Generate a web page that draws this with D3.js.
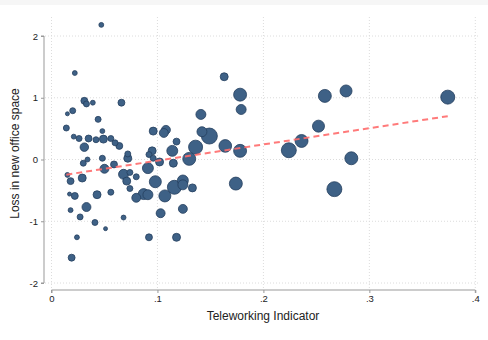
<!DOCTYPE html>
<html>
<head>
<meta charset="utf-8">
<script src="https://cdn.jsdelivr.net/npm/d3@7"></script>
<style>
  body { margin: 0; background: #fff; }
  text { font-family: "Liberation Sans", Arial, sans-serif; fill: #222; }
</style>
</head>
<body>
<svg id="chart" width="488" height="340"></svg>
<script>
// teleworking indicator (x), loss in new office space (y), weight (marker size)
var telework = [.047,.022,.031,.033,.039,.066,.020,.015,.044,.014,.048,.021,.026,.035,.042,.049,.056,.060,.064,.031,
  .072,.072,.048,.034,.030,.059,.050,.096,.108,.106,.118,.114,.095,.092,.096,.102,.091,.115,.130,.136,
  .141,.142,.149,.164,.163,.178,.179,.178,.258,.278,.374,.252,.236,.224,.283,.267,.174,.015,.018,.029,
  .017,.022,.043,.056,.033,.018,.027,.041,.051,.068,.024,.019,.092,.118,.068,.071,.074,.080,.074,.098,
  .080,.087,.091,.107,.103,.116,.124,.124,.133,.124];
var loss = [2.18,1.40,.95,.90,.92,.92,.79,.74,.65,.51,.46,.37,.34,.34,.32,.33,.34,.27,.22,.20,
  .09,.02,.02,.00,-.06,-.08,-.15,.46,.48,.43,.29,.14,.14,.08,.02,-.04,-.14,-.06,.01,.20,
  .73,.45,.38,.22,1.34,1.05,.81,.14,1.03,1.11,1.01,.54,.30,.15,.02,-.48,-.39,-.25,-.35,-.30,
  -.56,-.59,-.57,-.53,-.77,-.82,-.93,-1.02,-1.12,-.94,-1.26,-1.59,-1.26,-1.26,-.24,-.35,-.21,-.28,-.47,-.36,
  -.62,-.56,-.57,-.59,-.87,-.45,-.34,-.41,-.46,-.80];
var weight = [6,6,12,9,6,12,9,4,9,9,6,6,9,12,9,16,9,9,12,18,
  9,16,9,6,9,12,20,16,20,20,12,30,16,9,9,16,30,16,42,49,
  25,25,64,40,16,42,25,42,42,36,49,36,42,56,42,56,42,6,12,16,
  4,12,16,9,20,6,9,9,4,6,6,12,12,16,25,16,9,9,9,36,
  20,30,25,36,20,49,30,25,16,20];

var xTicks = [0, .1, .2, .3, .4];
var xTickLabels = ["0", ".1", ".2", ".3", ".4"];
var yTicks = [-2, -1, 0, 1, 2];
var yTickLabels = ["-2", "-1", "0", "1", "2"];

// linear fit
var fitIntercept = -0.282;
var fitSlope = 2.63;

var svg = d3.select("#chart");

svg.append("rect").attr("x", 0).attr("y", 0).attr("width", 488).attr("height", 5).attr("fill", "#f6f6f6");

var x = d3.scaleLinear().domain([0, .4]).range([51.5, 475.3]);
var y = d3.scaleLinear().domain([-2, 2]).range([283, 36]);
var r = d3.scaleSqrt().domain([0, 64]).range([0, 8]);

var plotTop = 17, plotBottom = 290, plotLeft = 44, plotRight = 478;

// grid
svg.append("g").selectAll("line").data(yTicks).enter().append("line")
  .attr("x1", plotLeft + 1).attr("x2", plotRight)
  .attr("y1", d => y(d)).attr("y2", d => y(d))
  .attr("stroke", "#dcdcdc").attr("stroke-width", 1).attr("stroke-dasharray", "1,2");

svg.append("g").selectAll("line").data(xTicks).enter().append("line")
  .attr("x1", d => x(d)).attr("x2", d => x(d))
  .attr("y1", plotTop).attr("y2", plotBottom - 1)
  .attr("stroke", "#dcdcdc").attr("stroke-width", 1).attr("stroke-dasharray", "1,2");

// axes
var xAxis = d3.axisBottom(x).tickValues(xTicks).tickSize(3).tickPadding(2)
  .tickFormat((d, i) => xTickLabels[i]);
var gx = svg.append("g").attr("transform", "translate(0," + plotBottom + ")").call(xAxis);
gx.select(".domain").attr("stroke", "#999").attr("d", "M" + x(0) + ",3V0H" + x(.4) + "V3");
gx.selectAll(".tick line").attr("stroke", "#999");
gx.selectAll("text").attr("font-size", 9.5).attr("fill", "#222")
  .attr("font-family", "Liberation Sans, Arial, sans-serif");

var yAxis = d3.axisLeft(y).tickValues(yTicks).tickSize(3).tickPadding(3)
  .tickFormat((d, i) => yTickLabels[i]);
var gy = svg.append("g").attr("transform", "translate(" + plotLeft + ",0)").call(yAxis);
gy.select(".domain").attr("stroke", "#999").attr("d", "M-3," + y(-2) + "H0V" + y(2) + "H-3");
gy.selectAll(".tick line").attr("stroke", "#999");
gy.selectAll("text").attr("font-size", 9.5).attr("fill", "#222")
  .attr("font-family", "Liberation Sans, Arial, sans-serif");

// axis titles
svg.append("text").attr("x", 263).attr("y", 320).attr("text-anchor", "middle")
  .attr("font-size", 12).text("Teleworking Indicator");
svg.append("text").attr("transform", "translate(18.5,153.5) rotate(-90)").attr("text-anchor", "middle")
  .attr("font-size", 12).text("Loss in new office space");

// points
var points = telework.map((t, i) => ({ t: t, l: loss[i], w: weight[i] }));
points.sort((a, b) => b.w - a.w);

svg.append("g").selectAll("circle").data(points).enter().append("circle")
  .attr("cx", d => x(d.t)).attr("cy", d => y(d.l)).attr("r", d => r(d.w))
  .attr("fill", "#3e6186").attr("stroke", "#243f5e").attr("stroke-width", 0.8);

// fitted line
var xMin = d3.min(telework), xMax = d3.max(telework);
var fit = [xMin, xMax].map(t => [t, fitIntercept + fitSlope * t]);
svg.append("path").datum(fit)
  .attr("d", d3.line().x(d => x(d[0])).y(d => y(d[1])))
  .attr("fill", "none").attr("stroke", "#ff6b6b").attr("stroke-opacity", 0.9)
  .attr("stroke-width", 2).attr("stroke-dasharray", "6,4");
</script>
</body>
</html>
